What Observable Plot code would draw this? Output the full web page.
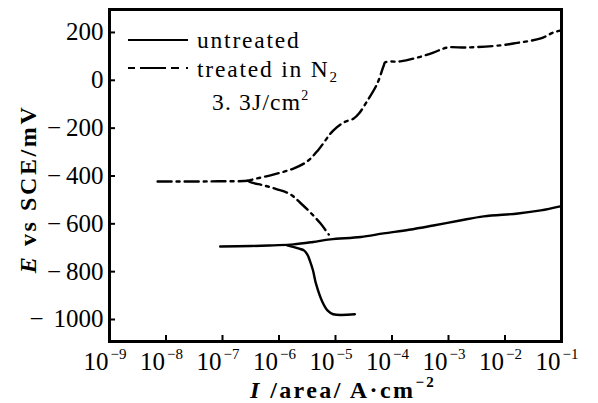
<!DOCTYPE html>
<html>
<head>
<meta charset="utf-8">
<script src="https://cdn.jsdelivr.net/npm/d3@7"></script>
<script src="https://cdn.jsdelivr.net/npm/@observablehq/plot@0.6"></script>
<style>
  html, body { margin: 0; padding: 0; background: #fff; }
  #chart { width: 598px; height: 403px; }
  #chart svg, #chart svg text, #chart svg tspan { font-family: "Liberation Serif", "Times New Roman", serif; }
</style>
</head>
<body>
<div id="chart"></div>
<script>
// ---- data (current density in A/cm², potential in mV vs SCE) ----
const untreatedMainI = [9.1e-8, 3.2e-7, 7.9e-7, 1.8e-6, 4.0e-6, 8.1e-6, 2.8e-5, 7.1e-5, 2.0e-4, 5.4e-4, 1.6e-3, 4.2e-3, 1.7e-2, 4.3e-2, 9.5e-2];
const untreatedMainE = [-695, -693, -690, -686, -676, -665, -655, -640, -625, -607, -586, -569, -557, -544, -527];
const untreatedCathI = [1.4e-6, 2.2e-6, 2.8e-6, 3.2e-6, 3.5e-6, 4.0e-6, 4.5e-6, 5.9e-6, 7.2e-6, 9.1e-6, 2.2e-5];
const untreatedCathE = [-690, -703, -712, -730, -753, -795, -849, -928, -962, -978, -978];
const treatedMainI = [7.1e-9, 3.2e-8, 1.0e-7, 2.8e-7, 3.5e-7, 7.9e-7, 1.8e-6, 3.2e-6, 5.0e-6, 9.1e-6, 1.4e-5, 2.1e-5, 2.6e-5, 3.7e-5, 5.5e-5, 7.1e-5, 7.6e-5, 1.4e-4, 2.8e-4, 5.4e-4, 9.5e-4, 2.1e-3, 8.3e-3, 1.4e-2, 4.3e-2, 7.2e-2, 9.5e-2];
const treatedMainE = [-423, -423, -422, -420, -414, -394, -369, -338, -290, -210, -176, -160, -139, -84, -13, 60, 75, 79, 95, 116, 137, 137, 146, 154, 175, 200, 208];
const treatedCathI = [2.8e-7, 3.2e-7, 5.5e-7, 9.0e-7, 1.6e-6, 2.4e-6, 3.6e-6, 5.4e-6, 7.6e-6];
const treatedCathE = [-420, -427, -440, -455, -477, -513, -553, -598, -645];

const xTickExps = [-9, -8, -7, -6, -5, -4, -3, -2, -1];
const yTickValues = [200, 0, -200, -400, -600, -800, -1000];
const seriesNames = ["untreated", "treated in N"];
const noteText = "3. 3J/cm";
const yTitleParts = ["E", " vs SCE/mV"];
const xTitleParts = ["I", " /area/ A·cm", "−2"];

const FONT = "Liberation Serif, Times New Roman, serif";

const toRows = (I, E) => I.map((v, i) => ({I: v, E: E[i]}));
const untreatedMain = toRows(untreatedMainI, untreatedMainE);
const untreatedCath = toRows(untreatedCathI, untreatedCathE);
const treatedMain = toRows(treatedMainI, treatedMainE);
const treatedCath = toRows(treatedCathI, treatedCathE);

const DASHDOT = "14,5,3,5";

function annotations(index, scales, values, dims) {
  const g = d3.create("svg:g").attr("fill", "black").attr("text-anchor", "start");
  const L = dims.marginLeft, T = dims.marginTop;
  // legend samples
  g.append("line").attr("x1", L + 19).attr("x2", L + 79).attr("y1", T + 31).attr("y2", T + 31)
    .attr("stroke", "black").attr("stroke-width", 2.2);
  g.append("line").attr("x1", L + 19).attr("x2", L + 79).attr("y1", T + 59).attr("y2", T + 59)
    .attr("stroke", "black").attr("stroke-width", 2.2).attr("stroke-dasharray", "7,5,26,5,8");
  g.append("text").attr("x", L + 88).attr("y", T + 39).attr("font-size", 23.5).attr("letter-spacing", 1.8)
    .text(seriesNames[0]);
  const t2 = g.append("text").attr("x", L + 88).attr("y", T + 68).attr("font-size", 23.5).attr("letter-spacing", 1.8);
  t2.append("tspan").text(seriesNames[1]);
  t2.append("tspan").attr("font-size", 15).attr("dy", 5).text("2");
  const t3 = g.append("text").attr("x", L + 103).attr("y", T + 101).attr("font-size", 23.5).attr("letter-spacing", 1.2);
  t3.append("tspan").text(noteText);
  t3.append("tspan").attr("font-size", 14).attr("dy", -10).text("2");
  // y title
  const yt = g.append("text").attr("transform", "translate(36,189) rotate(-90)")
    .attr("text-anchor", "middle").attr("font-size", 24).attr("letter-spacing", 2.6).attr("font-weight", "bold");
  yt.append("tspan").attr("font-style", "italic").text(yTitleParts[0]);
  yt.append("tspan").text(yTitleParts[1]);
  // x title
  const xt = g.append("text").attr("x", 250).attr("y", 398).attr("font-size", 24).attr("letter-spacing", 2.4).attr("font-weight", "bold");
  xt.append("tspan").attr("font-style", "italic").text(xTitleParts[0]);
  xt.append("tspan").text(xTitleParts[1]);
  xt.append("tspan").attr("font-size", 15).attr("dy", -11).text(xTitleParts[2]);
  return g.node();
}

const chart = Plot.plot({
  width: 598,
  height: 403,
  marginLeft: 109,
  marginRight: 37,
  marginTop: 9,
  marginBottom: 62,
  style: {fontFamily: FONT, background: "white", color: "black"},
  x: {type: "log", domain: [1e-9, 1e-1], axis: null},
  y: {domain: [-1092, 296]},
  marks: [
    Plot.line(untreatedMain, {x: "I", y: "E", stroke: "black", strokeWidth: 2.4, curve: "catmull-rom"}),
    Plot.line(untreatedCath, {x: "I", y: "E", stroke: "black", strokeWidth: 2.4, curve: "catmull-rom"}),
    Plot.line(treatedMain, {x: "I", y: "E", stroke: "black", strokeWidth: 2.4, strokeDasharray: DASHDOT, curve: "catmull-rom"}),
    Plot.line(treatedCath, {x: "I", y: "E", stroke: "black", strokeWidth: 2.4, strokeDasharray: DASHDOT, curve: "catmull-rom"}),
    Plot.tickY(yTickValues, {y: d => d, insetRight: 446, stroke: "black", strokeWidth: 2}),
    Plot.tickX(xTickExps, {x: d => 10 ** d, insetTop: 326, stroke: "black", strokeWidth: 2}),
    Plot.axisY({ticks: yTickValues, tickSize: 0, tickPadding: 6, fontSize: 25, label: null,
      tickFormat: d => d < 0 ? (d <= -1000 ? "−\u2009\u2009" : "−\u2009") + Math.abs(d) : String(d)}),
    Plot.text(xTickExps, {x: d => 10 ** d, frameAnchor: "bottom", text: () => "10", textAnchor: "end",
      lineAnchor: "bottom", dx: -1, dy: 28, fontSize: 25, fill: "black"}),
    Plot.text(xTickExps, {x: d => 10 ** d, frameAnchor: "bottom", text: d => "−" + Math.abs(d), textAnchor: "start",
      lineAnchor: "bottom", dx: 1, dy: 17, fontSize: 15, fill: "black"}),
    Plot.frame({stroke: "black", strokeWidth: 3}),
    annotations
  ]
});
document.getElementById("chart").append(chart);
</script>
</body>
</html>
